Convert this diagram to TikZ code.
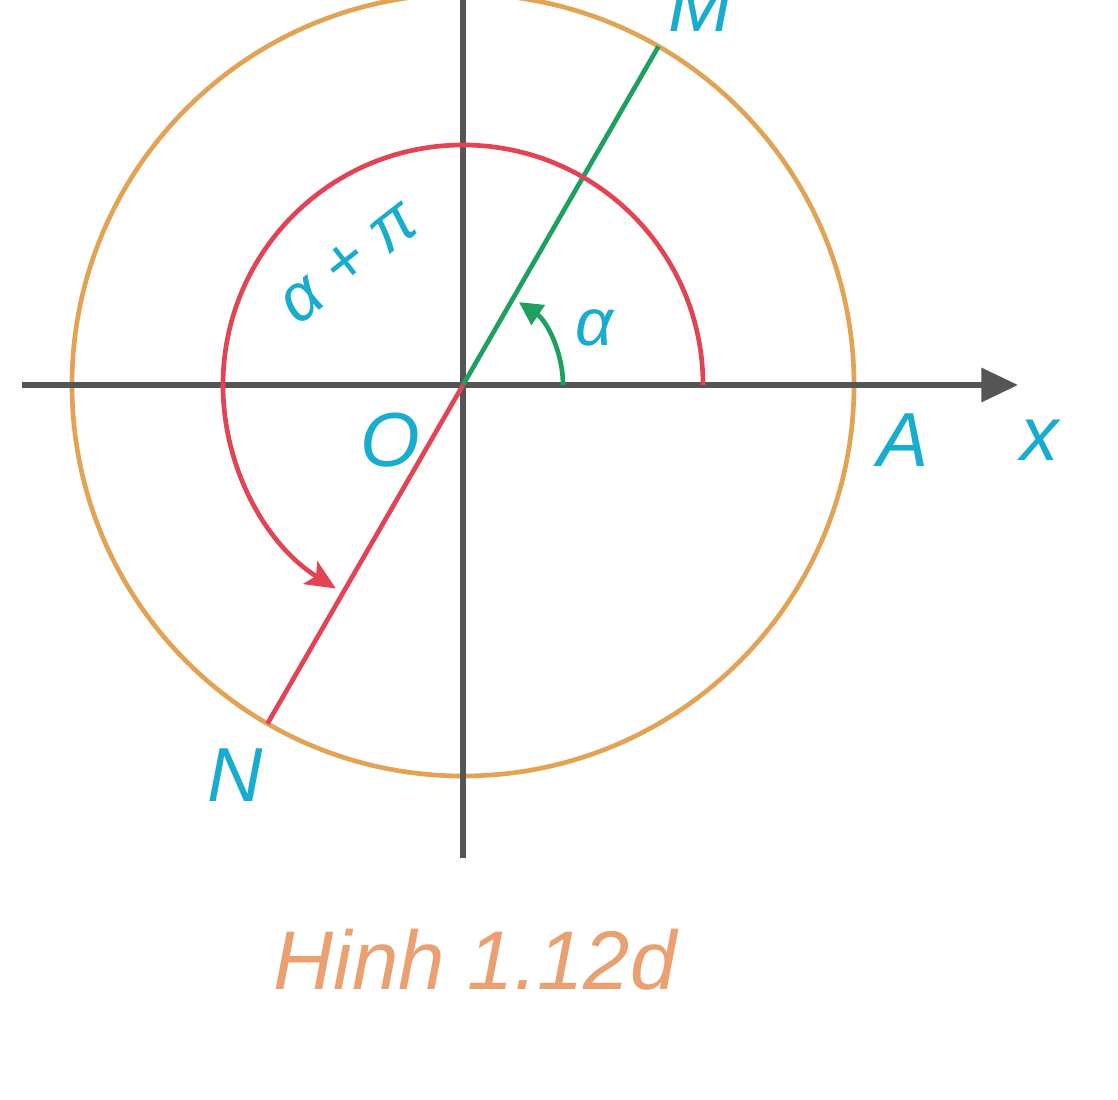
\documentclass[tikz,border=0pt]{standalone}
\usepackage{fontspec}
\setmainfont{Liberation Sans}
\usetikzlibrary{arrows.meta}
\definecolor{axisgray}{RGB}{85,85,85}
\definecolor{ringorange}{RGB}{226,164,84}
\definecolor{arcred}{RGB}{226,68,84}
\definecolor{raygreen}{RGB}{30,160,96}
\definecolor{labelcyan}{RGB}{24,172,206}
\definecolor{captionpeach}{RGB}{234,160,112}
\tikzset{
  axisline/.style={axisgray,line width=1.7pt},
  ringline/.style={ringorange,line width=1.4pt},
  redline/.style={arcred,line width=1.4pt},
  greenline/.style={raygreen,line width=1.4pt},
  ptlabel/.style={labelcyan,font=\fontsize{23}{23}\selectfont\itshape,inner sep=0pt},
  anglabel/.style={labelcyan,font=\fontsize{20}{20}\selectfont\itshape,inner sep=0pt},
}
\begin{document}
\begin{tikzpicture}[x=0.3pt,y=0.3pt,line join=round]
\useasboundingbox (-463,-715) rectangle (655,385);
%%
\coordinate (O) at (0,0);
\coordinate (M) at (60:391);
\coordinate (N) at (240:391);
\coordinate (x_left) at (-441,0);
\coordinate (x_right) at (555,0);
\coordinate (y_top) at (0,400);
\coordinate (y_bot) at (0,-473);
\coordinate (red_start) at (240,0);
\coordinate (green_start) at (100,0);
%
\draw [ringline] (O) circle (391);
\draw [axisline,-{Triangle[length=11pt,width=10pt]}] (x_left) -- (x_right);
\draw [axisline] (y_bot) -- (y_top);
\draw [greenline] (O) -- (M);
\draw [redline] (O) -- (N);
\draw [redline,-{Stealth[length=9pt,width=8pt,inset=2pt]}] (red_start) arc[start angle=0,end angle=238,radius=240];
\draw [greenline,-{Triangle[length=7pt,width=7pt]}] (green_start) arc[start angle=0,end angle=56,radius=100];
%
\node (m_lbl) at (237,380) [ptlabel] {M};
\node (n_lbl) at (-228,-390) [ptlabel] {N};
\node (o_lbl) at (-73,-55) [ptlabel] {O};
\node (a_lbl) at (440,-55) [ptlabel] {A};
\node (x_lbl) at (577,-55) [ptlabel] {x};
\node (alpha_lbl) at (132,57) [anglabel] {α};
\node (alphapi_lbl) at (-114,122) [anglabel,rotate=38] {α + π};
\node (caption) at (12,-575) [captionpeach,font=\fontsize{25}{25}\selectfont\itshape] {Hinh 1.12d};
%
\end{tikzpicture}
\end{document}
